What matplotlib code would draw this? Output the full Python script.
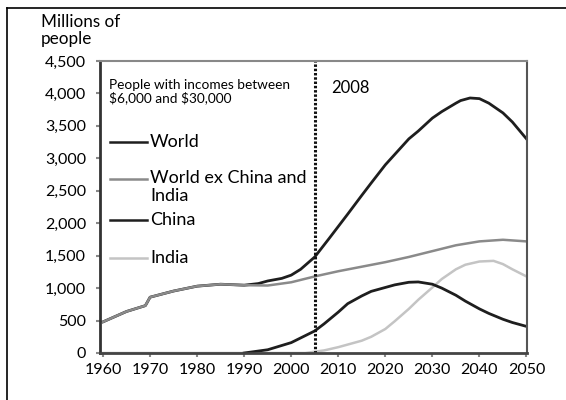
import numpy as np
import matplotlib.pyplot as plt
from matplotlib.lines import Line2D

plt.rcParams["font.family"] = ["Lato", "DejaVu Sans"]

# (millions of people)
years_ex = [1960, 1965, 1969, 1970, 1975, 1980, 1985, 1990, 1995, 2000, 2005,
            2010, 2015, 2020, 2025, 2030, 2035, 2040, 2045, 2050]
world_ex = [480, 640, 730, 860, 955, 1030, 1060, 1045, 1040, 1090, 1180,
            1260, 1330, 1400, 1480, 1570, 1660, 1720, 1745, 1720]

years_world = [1960, 1965, 1969, 1970, 1975, 1980, 1985, 1990, 1993, 1995, 1998,
               2000, 2002, 2005, 2008, 2010, 2012, 2015, 2017, 2020, 2022,
               2025, 2027, 2030, 2032, 2035, 2036, 2038, 2040, 2042, 2045,
               2047, 2050]
world = [480, 640, 730, 860, 955, 1030, 1060, 1045, 1070, 1110, 1150,
         1200, 1290, 1480, 1760, 1950, 2140, 2430, 2620, 2900, 3060,
         3300, 3420, 3620, 3720, 3850, 3890, 3930, 3920, 3850, 3700,
         3560, 3300]

years_china = [1990, 1995, 2000, 2005, 2007, 2010, 2012, 2015, 2017, 2020,
               2022, 2025, 2027, 2030, 2032, 2035, 2037, 2040, 2042, 2045,
               2047, 2050]
china = [0, 50, 160, 340, 450, 630, 760, 880, 950, 1010,
         1050, 1090, 1095, 1060, 1000, 890, 800, 680, 610, 520,
         470, 410]

years_india = [1960, 1990, 2003, 2005, 2007, 2010, 2012, 2015, 2017, 2020,
               2022, 2025, 2027, 2030, 2032, 2035, 2037, 2040, 2043, 2045,
               2047, 2050]
india = [0, 0, 0, 20, 40, 90, 130, 190, 250, 370,
         490, 680, 820, 1010, 1140, 1290, 1360, 1410, 1420, 1370,
         1290, 1180]

marker_year = 2005

BLACK = "#1e1e1e"
MID = "#8a8a8a"
LIGHT = "#c4c4c4"

fig = plt.figure(figsize=(5.66, 4), dpi=100)
ax = fig.add_axes([0.1767, 0.1175, 0.7543, 0.73])

ax.plot(years_world, world, color=BLACK, lw=2)
ax.plot(years_india, india, color=LIGHT, lw=1.8)
ax.plot(years_ex, world_ex, color=MID, lw=1.8)
ax.plot(years_china, china, color=BLACK, lw=2)

ax.axvline(marker_year, color="#111111", lw=2.2, ls=(0, (0.8, 0.6)))

ax.set_xlim(1959.36, 2050.1)
ax.set_ylim(0, 4500)
ax.set_xticks(np.arange(1960, 2051, 10))
ax.set_yticks(np.arange(0, 4501, 500))
ax.set_yticklabels([f"{v:,}" for v in range(0, 4501, 500)])
ax.tick_params(axis="both", labelsize=11.5, length=3, width=1.5, color="#888888")
ax.tick_params(axis="y", pad=7)
ax.tick_params(axis="x", pad=4)

ax.spines["left"].set_color("#333333")
ax.spines["left"].set_linewidth(2)
ax.spines["bottom"].set_color("#444444")
ax.spines["bottom"].set_linewidth(2)
ax.spines["right"].set_color("#555555")
ax.spines["right"].set_linewidth(1.5)
ax.spines["top"].set_color("#888888")
ax.spines["top"].set_linewidth(1.5)

ax.text(1961.2, 4030, "People with incomes between\n\\$6,000 and \\$30,000",
        fontsize=9.8, va="center", linespacing=1.1)
ax.text(2008.5, 4090, "2008", fontsize=12, va="center")

# legend drawn by hand like the original
legend = [("World", BLACK, 3250, 3250),
          ("World ex China and\nIndia", MID, 2680, 2560),
          ("China", BLACK, 2050, 2050),
          ("India", LIGHT, 1470, 1470)]
for label, col, ly, ty in legend:
    ax.plot([1961.5, 1969.3], [ly, ly], color=col, lw=1.8, clip_on=False)
    ax.text(1970, ty, label, fontsize=13, va="center", linespacing=1.2)

fig.text(0.072, 0.965, "Millions of\npeople", fontsize=12.3, va="top",
         linespacing=1.05)

# frame lines at top and left of the figure
fig.add_artist(Line2D([0.012, 1.0], [0.98, 0.98], color="black", lw=1.2))
fig.add_artist(Line2D([0.012, 0.012], [0.0, 0.98], color="black", lw=1.2))

fig.savefig("out.png", dpi=100)
